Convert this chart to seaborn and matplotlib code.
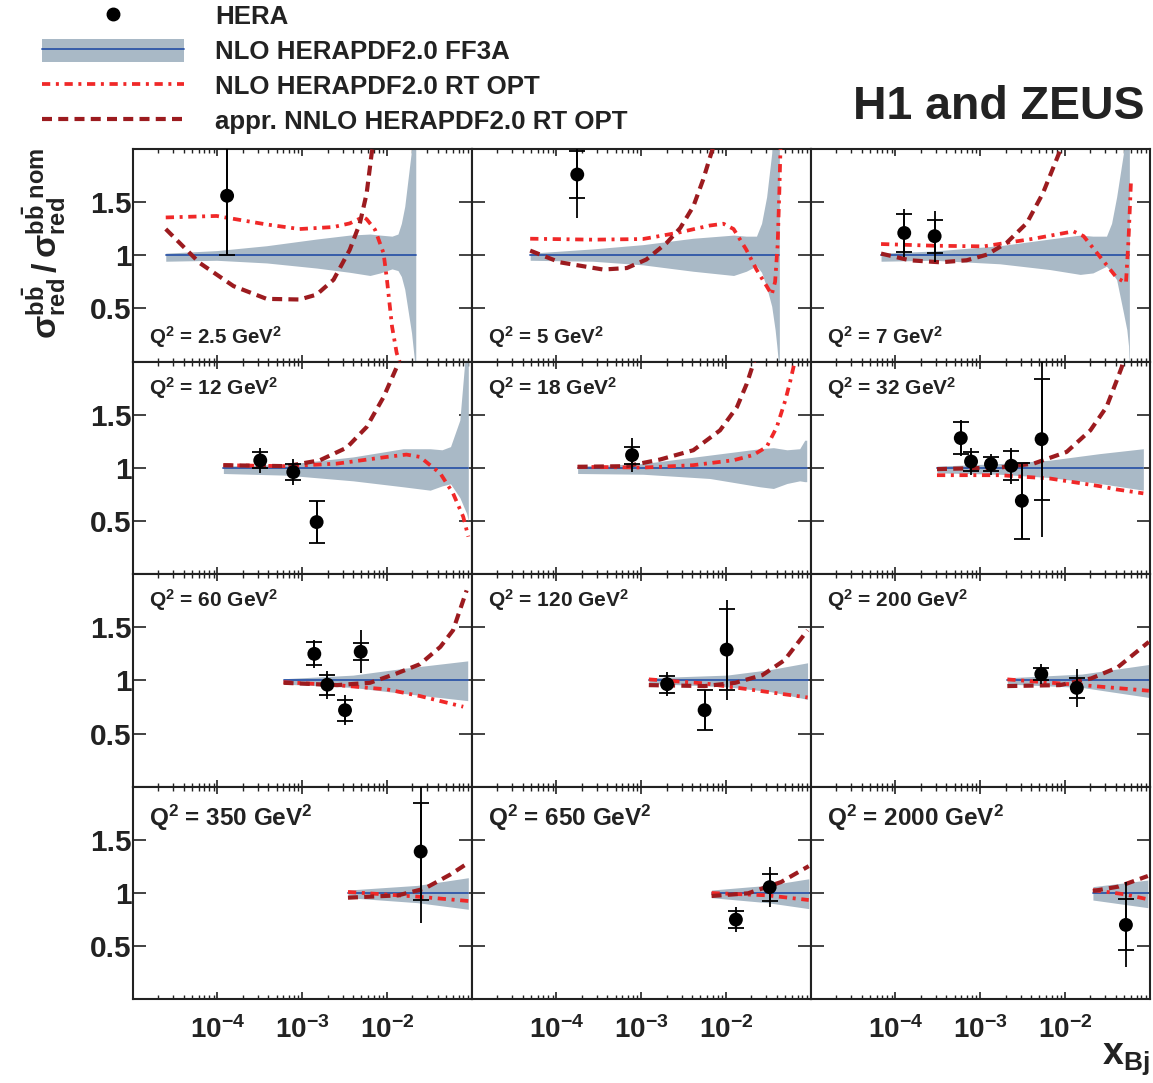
import numpy as np
import matplotlib
matplotlib.use("Agg")
import matplotlib.pyplot as plt
import seaborn as sns
from matplotlib.ticker import FixedLocator, LogLocator, NullLocator, FixedFormatter, NullFormatter
from matplotlib.lines import Line2D
from matplotlib.patches import Patch
from matplotlib.legend_handler import HandlerTuple

# ---------------------------------------------------------------- data
q2_values = [2.5, 5, 7, 12, 18, 32, 60, 120, 200, 350, 650, 2000]
q2_labels = ["2.5", "5", "7", "12", "18", "32", "60", "120", "200", "350", "650", "2000"]

# HERA combined beauty measurements, ratio to FF3A prediction
hera_x = [[1.3e-4], [1.76e-4], [1.27e-4, 2.9e-4], [3.2e-4, 7.85e-4, 1.48e-3], [7.8e-4],
          [5.9e-4, 7.8e-4, 1.34e-3, 2.33e-3, 3.1e-3, 5.3e-3],
          [1.39e-3, 1.98e-3, 3.2e-3, 4.9e-3], [2.02e-3, 5.6e-3, 1.02e-2],
          [5.26e-3, 1.38e-2], [2.5e-2], [1.31e-2, 3.28e-2], [5.24e-2]]
hera_ratio = [[1.56], [1.76], [1.21, 1.18], [1.07, 0.96, 0.49], [1.12],
              [1.28, 1.06, 1.035, 1.02, 0.69, 1.27],
              [1.25, 0.96, 0.72, 1.27], [0.965, 0.72, 1.29],
              [1.06, 0.93], [1.39], [0.75, 1.055], [0.70]]
hera_stat = [[0.56], [0.22], [0.175, 0.155], [0.075, 0.077, 0.20], [0.08],
             [0.153, 0.09, 0.065, 0.135, 0.36, 0.57],
             [0.107, 0.093, 0.10, 0.082], [0.08, 0.19, 0.38],
             [0.06, 0.095], [0.46], [0.08, 0.127], [0.24]]
hera_total = [[0.56], [0.41], [0.23, 0.24], [0.12, 0.12, 0.20], [0.16],
              [0.17, 0.13, 0.10, 0.17, 0.36, 0.92],
              [0.13, 0.13, 0.14, 0.20], [0.11, 0.19, 0.47],
              [0.09, 0.18], [0.67], [0.12, 0.19], [0.40]]

# NLO HERAPDF2.0 FF3A uncertainty band (log10 x, upper, lower)
band_logx = [[-4.61, -4.01, -3.42, -2.83, -2.44, -2.20, -2.08, -1.94, -1.87, -1.83, -1.79, -1.71, -1.66],
             [-4.31, -3.57, -2.98, -2.39, -1.91, -1.76, -1.64, -1.58, -1.52, -1.46, -1.42, -1.40, -1.37],
             [-4.17, -3.55, -2.77, -2.18, -1.82, -1.67, -1.51, -1.45, -1.39, -1.31, -1.27, -1.25, -1.24],
             [-3.93, -3.18, -2.40, -1.81, -1.49, -1.35, -1.25, -1.14, -1.06, -1.04],
             [-3.75, -2.98, -2.19, -1.60, -1.44, -1.28, -1.13, -1.07, -1.047],
             [-3.51, -2.77, -2.18, -1.59, -1.075],
             [-3.22, -2.40, -1.81, -1.047],
             [-2.91, -1.99, -1.47, -1.037],
             [-2.68, -1.80, -1.01],
             [-2.46, -1.64, -1.04],
             [-2.17, -1.51, -1.023],
             [-1.67, -1.022]]
band_hi = [[1.02, 1.044, 1.09, 1.153, 1.19, 1.20, 1.19, 1.18, 1.20, 1.30, 1.46, 1.99, 2.6],
           [1.02, 1.06, 1.10, 1.16, 1.19, 1.18, 1.18, 1.30, 1.55, 1.96, 2.6, 2.6, 2.6],
           [1.02, 1.04, 1.09, 1.153, 1.19, 1.18, 1.18, 1.30, 1.55, 1.96, 2.6, 2.6, 2.6],
           [1.016, 1.034, 1.103, 1.18, 1.18, 1.17, 1.20, 1.45, 2.2, 2.6],
           [1.016, 1.04, 1.12, 1.18, 1.19, 1.17, 1.18, 1.26, 1.26],
           [1.016, 1.04, 1.072, 1.134, 1.18],
           [1.016, 1.05, 1.113, 1.184],
           [1.025, 1.05, 1.103, 1.166],
           [1.025, 1.06, 1.15],
           [1.028, 1.072, 1.144],
           [1.028, 1.072, 1.134],
           [1.06, 1.122]]
band_lo = [[0.944, 0.953, 0.928, 0.88, 0.84, 0.81, 0.834, 0.872, 0.856, 0.80, 0.68, 0.27, -0.1],
           [0.953, 0.944, 0.91, 0.85, 0.81, 0.85, 0.90, 0.84, 0.70, 0.52, 0.30, 0.15, -0.1],
           [0.944, 0.953, 0.92, 0.866, 0.82, 0.834, 0.897, 0.84, 0.77, 0.46, 0.30, 0.15, -0.1],
           [0.947, 0.931, 0.878, 0.822, 0.79, 0.83, 0.85, 0.72, 0.57, 0.50],
           [0.947, 0.94, 0.90, 0.822, 0.806, 0.853, 0.878, 0.87, 0.87],
           [0.953, 0.94, 0.909, 0.853, 0.79],
           [0.966, 0.934, 0.878, 0.81],
           [0.972, 0.94, 0.894, 0.822],
           [0.966, 0.934, 0.84],
           [0.956, 0.909, 0.847],
           [0.956, 0.909, 0.853],
           [0.934, 0.862]]

# NLO HERAPDF2.0 RT OPT
rt_logx = [[-4.61, -4.01, -3.42, -3.03, -2.63, -2.44, -2.28, -2.24, -2.14, -2.04, -2.00, -1.94, -1.885, -1.83],
           [-4.31, -3.57, -2.98, -2.58, -2.19, -2.03, -1.91, -1.76, -1.64, -1.52, -1.46, -1.42, -1.39, -1.37, -1.355],
           [-4.17, -3.55, -2.96, -2.37, -1.90, -1.78, -1.59, -1.39, -1.28, -1.25, -1.22],
           [-3.93, -3.18, -2.59, -2.00, -1.77, -1.61, -1.37, -1.22, -1.10, -1.04],
           [-3.75, -2.98, -2.39, -1.91, -1.68, -1.52, -1.40, -1.30, -1.24, -1.185],
           [-3.51, -2.77, -2.18, -1.59, -1.39, -1.075],
           [-3.22, -2.59, -2.00, -1.61, -1.10],
           [-2.91, -2.25, -1.73, -1.037],
           [-2.68, -1.80, -1.01],
           [-2.46, -1.64, -1.04],
           [-2.17, -1.51, -1.023],
           [-1.67, -1.30, -1.022]]
rt_ratio = [[1.356, 1.37, 1.29, 1.247, 1.266, 1.30, 1.36, 1.34, 1.24, 1.02, 0.77, 0.33, 0.08, -0.05],
            [1.156, 1.147, 1.153, 1.21, 1.28, 1.297, 1.247, 1.053, 0.866, 0.71, 0.63, 0.75, 1.1, 1.6, 2.05],
            [1.106, 1.09, 1.084, 1.156, 1.225, 1.18, 0.99, 0.79, 0.74, 1.147, 1.71],
            [1.025, 1.016, 1.04, 1.103, 1.125, 1.103, 0.947, 0.76, 0.54, 0.353],
            [1.01, 1.003, 1.025, 1.072, 1.12, 1.197, 1.384, 1.634, 1.82, 2.01],
            [0.931, 0.931, 0.90, 0.828, 0.797, 0.76],
            [0.984, 0.956, 0.916, 0.853, 0.753],
            [1.01, 0.972, 0.916, 0.84],
            [1.01, 0.956, 0.903],
            [1.01, 0.966, 0.925],
            [1.0, 0.978, 0.934],
            [1.028, 0.988, 0.941]]

# approx. NNLO HERAPDF2.0 RT OPT
nnlo_logx = [[-4.61, -4.21, -3.81, -3.42, -3.03, -2.83, -2.63, -2.44, -2.32, -2.24, -2.18, -2.16],
             [-4.31, -3.96, -3.45, -3.17, -2.94, -2.70, -2.54, -2.385, -2.27, -2.15],
             [-4.17, -3.83, -3.47, -3.16, -2.92, -2.69, -2.45, -2.26, -2.10, -2.04],
             [-3.93, -3.18, -2.79, -2.475, -2.24, -2.04, -1.885, -1.85],
             [-3.75, -3.17, -2.78, -2.385, -2.07, -1.87, -1.755, -1.677, -1.66],
             [-3.51, -2.77, -2.37, -1.98, -1.70, -1.51, -1.39, -1.33, -1.31],
             [-3.22, -2.59, -2.20, -1.885, -1.61, -1.37, -1.22, -1.06],
             [-2.91, -2.25, -1.89, -1.57, -1.31, -1.037],
             [-2.68, -2.06, -1.69, -1.38, -1.01],
             [-2.46, -1.87, -1.56, -1.25, -1.04],
             [-2.17, -1.74, -1.35, -1.023],
             [-1.67, -1.37, -1.022]]
nnlo_ratio = [[1.247, 0.928, 0.71, 0.59, 0.584, 0.63, 0.77, 1.05, 1.30, 1.58, 1.96, 2.05],
              [1.044, 0.934, 0.866, 0.88, 0.96, 1.116, 1.256, 1.46, 1.71, 2.02],
              [1.016, 0.953, 0.934, 0.953, 1.006, 1.116, 1.303, 1.584, 1.90, 2.02],
              [1.025, 1.016, 1.072, 1.19, 1.384, 1.666, 1.947, 2.02],
              [1.01, 1.016, 1.078, 1.166, 1.353, 1.572, 1.79, 1.98, 2.02],
              [0.988, 1.003, 1.04, 1.15, 1.353, 1.572, 1.82, 1.947, 2.02],
              [0.978, 0.956, 0.978, 1.066, 1.153, 1.316, 1.472, 1.847],
              [0.956, 0.947, 0.978, 1.05, 1.19, 1.472],
              [0.947, 0.956, 1.019, 1.122, 1.363],
              [0.956, 0.978, 1.04, 1.175, 1.284],
              [0.972, 0.997, 1.103, 1.253],
              [1.019, 1.06, 1.16]]

legend_labels = ["HERA", "NLO HERAPDF2.0 FF3A", "NLO HERAPDF2.0 RT OPT",
                 "appr. NNLO HERAPDF2.0 RT OPT"]
x_tick_values = [1e-4, 1e-3, 1e-2]
x_tick_labels = [r"$10^{-4}$", r"$10^{-3}$", r"$10^{-2}$"]
y_tick_values = [0.5, 1.0, 1.5]
y_tick_labels = ["0.5", "1", "1.5"]

# ---------------------------------------------------------------- style
sns.set_theme(style="ticks")
plt.rcParams["font.family"] = ["Liberation Sans", "DejaVu Sans"]
plt.rcParams["font.weight"] = "bold"
plt.rcParams["mathtext.fontset"] = "custom"
for key in ("rm", "it", "bf", "sf"):
    plt.rcParams["mathtext." + key] = "Liberation Sans:bold"
plt.rcParams["mathtext.default"] = "rm"
plt.rcParams["axes.linewidth"] = 1.5

INK = "#222222"
BAND = "#a9b9c6"
BLUE = "#2e56a8"
RED = "#f02828"
DARK = "#9c1b1f"
RT_STYLE = (0, (2.2, 1.5, 0.8, 1.5))
NNLO_STYLE = (0, (2.4, 1.5))

W, H = 1153, 1083
fig = plt.figure(figsize=(W / 100, H / 100), dpi=100)

left_px, right_px = 132.7, 1149.7
top_px, bottom_px = 149.0, 999.3
pw = (right_px - left_px) / 3
ph = (bottom_px - top_px) / 4

for i, q2 in enumerate(q2_values):
    r, c = divmod(i, 3)
    ax = fig.add_axes([(left_px + c * pw) / W, 1 - (top_px + (r + 1) * ph) / H, pw / W, ph / H])
    ax.set_xscale("log")

    bx = 10 ** np.array(band_logx[i])
    ax.fill_between(bx, band_lo[i], band_hi[i], color=BAND, lw=0, zorder=1)
    sns.lineplot(x=bx, y=np.ones_like(bx), ax=ax, color=BLUE, lw=1.3, zorder=2)

    sns.lineplot(x=10 ** np.array(rt_logx[i]), y=rt_ratio[i], ax=ax, color=RED,
                 lw=2.7, linestyle=RT_STYLE, sort=False, estimator=None, zorder=3)
    sns.lineplot(x=10 ** np.array(nnlo_logx[i]), y=nnlo_ratio[i], ax=ax, color=DARK,
                 lw=3.0, linestyle=NNLO_STYLE, sort=False, estimator=None, zorder=3)

    ax.errorbar(hera_x[i], hera_ratio[i], yerr=hera_total[i], fmt="none", ecolor="black",
                elinewidth=1.3, capsize=0, zorder=4)
    ax.errorbar(hera_x[i], hera_ratio[i], yerr=hera_stat[i], fmt="none", ecolor="black",
                elinewidth=1.3, capsize=5.5, capthick=1.3, zorder=4)
    sns.scatterplot(x=hera_x[i], y=hera_ratio[i], ax=ax, color="black", s=100,
                    edgecolor="none", zorder=5, legend=False)

    ax.set_xlim(1e-5, 1e-1)
    ax.set_ylim(0, 2)
    ax.set_xlabel("")
    ax.set_ylabel("")

    ax.xaxis.set_major_locator(FixedLocator(x_tick_values))
    ax.xaxis.set_minor_locator(LogLocator(base=10, subs=np.arange(2, 10), numticks=20))
    ax.xaxis.set_minor_formatter(NullFormatter())
    ax.yaxis.set_major_locator(FixedLocator(y_tick_values))
    ax.yaxis.set_minor_locator(NullLocator())
    ax.tick_params(axis="x", which="major", direction="in", length=5, width=1.2,
                   top=True, bottom=True, labelsize=20, pad=12, colors=INK)
    ax.tick_params(axis="x", which="minor", direction="in", length=3, width=1.0,
                   top=True, bottom=True, colors=INK)
    ax.tick_params(axis="y", which="major", direction="in", length=9.5, width=1.2,
                   left=True, right=True, labelsize=21.5, pad=1, colors=INK)
    if r == 3:
        ax.xaxis.set_major_formatter(FixedFormatter(x_tick_labels))
    else:
        ax.xaxis.set_major_formatter(NullFormatter())
    if c == 0:
        ax.yaxis.set_major_formatter(FixedFormatter(y_tick_labels))
    else:
        ax.yaxis.set_major_formatter(NullFormatter())
    for s in ax.spines.values():
        s.set_linewidth(1.5)
        s.set_color(INK)

    label = r"Q$^{2}$ = " + q2_labels[i] + r" GeV$^{2}$"
    if r == 0:
        ax.text(0.047, 0.082, label, transform=ax.transAxes, fontsize=14.8,
                fontweight="bold", color=INK, va="baseline", ha="left")
    elif r == 3:
        ax.text(0.047, 0.814, label, transform=ax.transAxes, fontsize=17.5,
                fontweight="bold", color=INK, va="baseline", ha="left")
    else:
        ax.text(0.047, 0.846, label, transform=ax.transAxes, fontsize=15.0,
                fontweight="bold", color=INK, va="baseline", ha="left")

# axis titles
fig.text(44 / W, 1 - 148 / H,
         r"$\sigma^{\rm b\bar{b}}_{\rm red}\,/\,\sigma^{\rm b\bar{b}\ nom}_{\rm red}$",
         rotation=90, ha="center", va="top", fontsize=24.5, color=INK)
fig.text(1150 / W, 1 - 1064 / H, r"$x_{\rm Bj}$", ha="right", va="baseline",
         fontsize=27, color=INK)
fig.text(1145 / W, 1 - 119 / H, "H1 and ZEUS", ha="right", va="baseline",
         fontsize=33.5, fontweight="bold", color=INK)

# legend
handles = [
    Line2D([], [], marker="o", color="black", ls="none", markersize=9),
    (Patch(facecolor=BAND, edgecolor="none"), Line2D([], [], color=BLUE, lw=1.3)),
    Line2D([], [], color=RED, lw=2.7, linestyle=RT_STYLE),
    Line2D([], [], color=DARK, lw=3.0, linestyle=NNLO_STYLE),
]
leg = fig.legend(handles, legend_labels, loc="upper left", bbox_to_anchor=(42 / W, 1 - 4 / H),
                 frameon=False, handlelength=5.5, handleheight=1.0,
                 handletextpad=1.2, labelspacing=0.37, borderpad=0, borderaxespad=0,
                 handler_map={tuple: HandlerTuple(ndivide=1, pad=0)},
                 prop={"weight": "bold", "size": 18.6})
for t in leg.get_texts():
    t.set_color(INK)

fig.savefig("out.png", dpi=100)
